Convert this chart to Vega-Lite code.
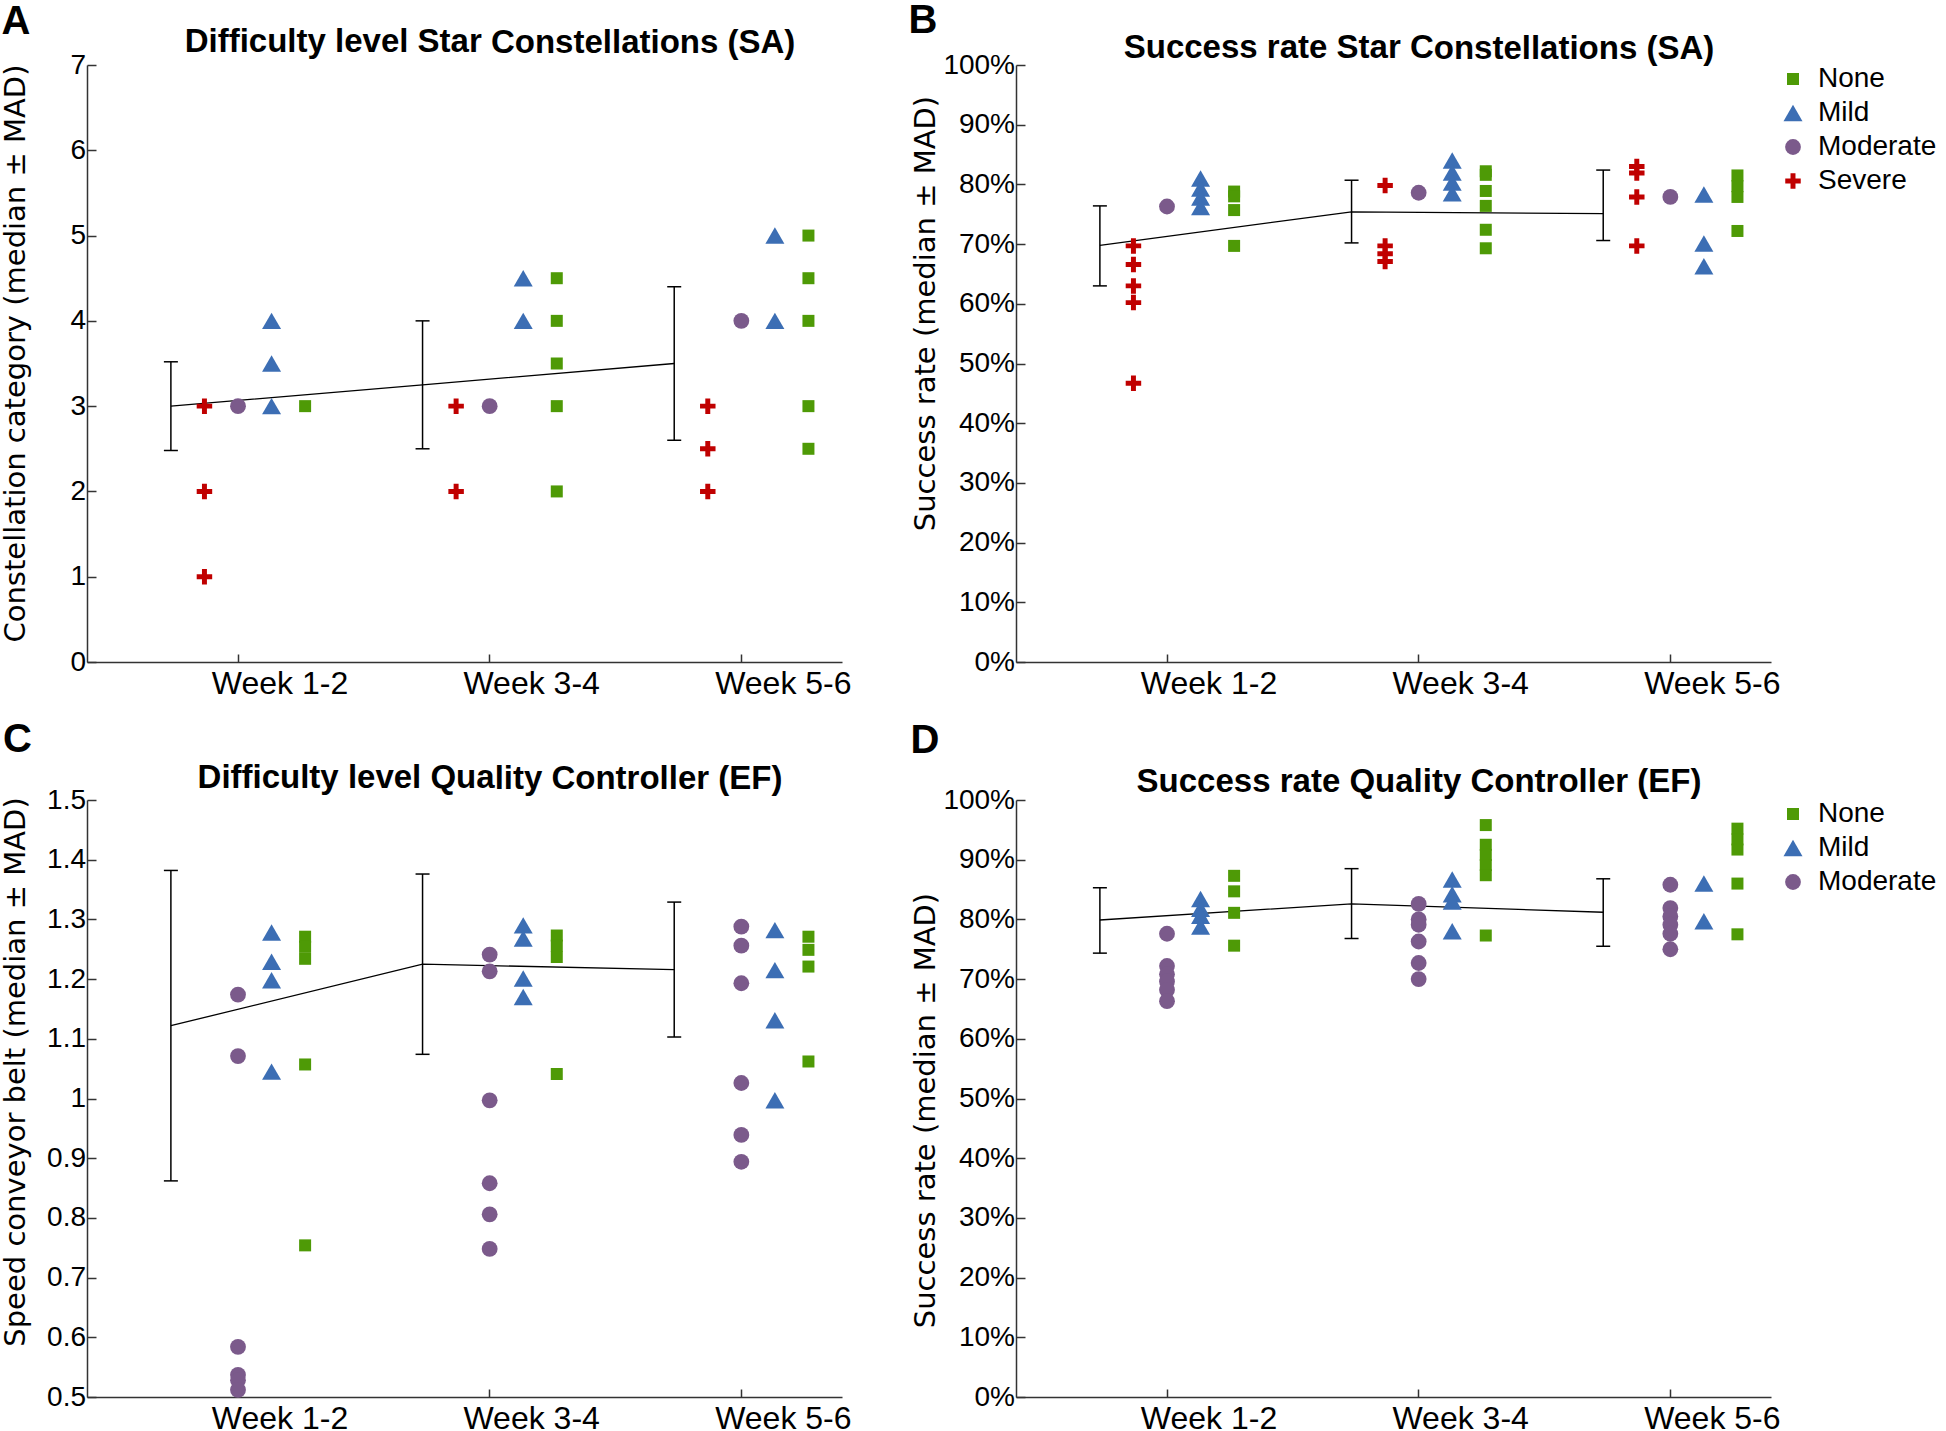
{
  "$schema": "https://vega.github.io/schema/vega-lite/v6.json",
  "padding": 0,
  "autosize": {"type": "pad"},
  "background": "white",
  "bounds": "flush",
  "columns": 2,
  "spacing": {"row": 138, "column": 174},
  "resolve": {"scale": {"x": "independent", "y": "independent", "xOffset": "independent", "color": "independent", "shape": "independent", "size": "independent"}, "axis": {"x": "independent", "y": "independent"}, "legend": {"color": "independent", "shape": "independent", "size": "independent"}},
  "datasets": {
    "A_pts": [
      {"week": "Week 1-2", "group": "Severe", "value": 3}, {"week": "Week 1-2", "group": "Severe", "value": 2}, {"week": "Week 1-2", "group": "Severe", "value": 1},
      {"week": "Week 1-2", "group": "Moderate", "value": 3},
      {"week": "Week 1-2", "group": "Mild", "value": 4}, {"week": "Week 1-2", "group": "Mild", "value": 3.5}, {"week": "Week 1-2", "group": "Mild", "value": 3},
      {"week": "Week 1-2", "group": "None", "value": 3},
      {"week": "Week 3-4", "group": "Severe", "value": 3}, {"week": "Week 3-4", "group": "Severe", "value": 2},
      {"week": "Week 3-4", "group": "Moderate", "value": 3},
      {"week": "Week 3-4", "group": "Mild", "value": 4.5}, {"week": "Week 3-4", "group": "Mild", "value": 4},
      {"week": "Week 3-4", "group": "None", "value": 4.5}, {"week": "Week 3-4", "group": "None", "value": 4}, {"week": "Week 3-4", "group": "None", "value": 3.5}, {"week": "Week 3-4", "group": "None", "value": 3}, {"week": "Week 3-4", "group": "None", "value": 2},
      {"week": "Week 5-6", "group": "Severe", "value": 3}, {"week": "Week 5-6", "group": "Severe", "value": 2.5}, {"week": "Week 5-6", "group": "Severe", "value": 2},
      {"week": "Week 5-6", "group": "Moderate", "value": 4},
      {"week": "Week 5-6", "group": "Mild", "value": 5}, {"week": "Week 5-6", "group": "Mild", "value": 4},
      {"week": "Week 5-6", "group": "None", "value": 5}, {"week": "Week 5-6", "group": "None", "value": 4.5}, {"week": "Week 5-6", "group": "None", "value": 4}, {"week": "Week 5-6", "group": "None", "value": 3}, {"week": "Week 5-6", "group": "None", "value": 2.5}
    ],
    "A_sum": [
      {"week": "Week 1-2", "median": 3.0, "lo": 2.48, "hi": 3.52},
      {"week": "Week 3-4", "median": 3.25, "lo": 2.5, "hi": 4.0},
      {"week": "Week 5-6", "median": 3.5, "lo": 2.6, "hi": 4.4}
    ],
    "B_pts": [
      {"week": "Week 1-2", "group": "Severe", "value": 69.7}, {"week": "Week 1-2", "group": "Severe", "value": 66.6}, {"week": "Week 1-2", "group": "Severe", "value": 63.0}, {"week": "Week 1-2", "group": "Severe", "value": 60.2}, {"week": "Week 1-2", "group": "Severe", "value": 46.7},
      {"week": "Week 1-2", "group": "Moderate", "value": 76.3},
      {"week": "Week 1-2", "group": "Mild", "value": 81.0}, {"week": "Week 1-2", "group": "Mild", "value": 79.3}, {"week": "Week 1-2", "group": "Mild", "value": 77.8}, {"week": "Week 1-2", "group": "Mild", "value": 76.2},
      {"week": "Week 1-2", "group": "None", "value": 78.8}, {"week": "Week 1-2", "group": "None", "value": 78.0}, {"week": "Week 1-2", "group": "None", "value": 75.7}, {"week": "Week 1-2", "group": "None", "value": 69.7},
      {"week": "Week 3-4", "group": "Severe", "value": 79.8}, {"week": "Week 3-4", "group": "Severe", "value": 69.7}, {"week": "Week 3-4", "group": "Severe", "value": 68.4}, {"week": "Week 3-4", "group": "Severe", "value": 67.1},
      {"week": "Week 3-4", "group": "Moderate", "value": 78.6},
      {"week": "Week 3-4", "group": "Mild", "value": 84.0}, {"week": "Week 3-4", "group": "Mild", "value": 82.0}, {"week": "Week 3-4", "group": "Mild", "value": 80.3}, {"week": "Week 3-4", "group": "Mild", "value": 78.5},
      {"week": "Week 3-4", "group": "None", "value": 82.2}, {"week": "Week 3-4", "group": "None", "value": 81.6}, {"week": "Week 3-4", "group": "None", "value": 78.9}, {"week": "Week 3-4", "group": "None", "value": 76.4}, {"week": "Week 3-4", "group": "None", "value": 72.4}, {"week": "Week 3-4", "group": "None", "value": 69.3},
      {"week": "Week 5-6", "group": "Severe", "value": 83.0}, {"week": "Week 5-6", "group": "Severe", "value": 81.9}, {"week": "Week 5-6", "group": "Severe", "value": 77.9}, {"week": "Week 5-6", "group": "Severe", "value": 69.7},
      {"week": "Week 5-6", "group": "Moderate", "value": 77.9},
      {"week": "Week 5-6", "group": "Mild", "value": 78.3}, {"week": "Week 5-6", "group": "Mild", "value": 70.1}, {"week": "Week 5-6", "group": "Mild", "value": 66.3},
      {"week": "Week 5-6", "group": "None", "value": 81.5}, {"week": "Week 5-6", "group": "None", "value": 79.7}, {"week": "Week 5-6", "group": "None", "value": 77.9}, {"week": "Week 5-6", "group": "None", "value": 72.2}
    ],
    "B_sum": [
      {"week": "Week 1-2", "median": 69.8, "lo": 63.0, "hi": 76.4},
      {"week": "Week 3-4", "median": 75.4, "lo": 70.2, "hi": 80.7},
      {"week": "Week 5-6", "median": 75.1, "lo": 70.6, "hi": 82.4}
    ],
    "C_pts": [
      {"week": "Week 1-2", "group": "Moderate", "value": 1.174}, {"week": "Week 1-2", "group": "Moderate", "value": 1.071}, {"week": "Week 1-2", "group": "Moderate", "value": 0.584}, {"week": "Week 1-2", "group": "Moderate", "value": 0.537}, {"week": "Week 1-2", "group": "Moderate", "value": 0.528}, {"week": "Week 1-2", "group": "Moderate", "value": 0.512},
      {"week": "Week 1-2", "group": "Mild", "value": 1.278}, {"week": "Week 1-2", "group": "Mild", "value": 1.229}, {"week": "Week 1-2", "group": "Mild", "value": 1.198}, {"week": "Week 1-2", "group": "Mild", "value": 1.045},
      {"week": "Week 1-2", "group": "None", "value": 1.271}, {"week": "Week 1-2", "group": "None", "value": 1.254}, {"week": "Week 1-2", "group": "None", "value": 1.234}, {"week": "Week 1-2", "group": "None", "value": 1.057}, {"week": "Week 1-2", "group": "None", "value": 0.754},
      {"week": "Week 3-4", "group": "Moderate", "value": 1.241}, {"week": "Week 3-4", "group": "Moderate", "value": 1.213}, {"week": "Week 3-4", "group": "Moderate", "value": 0.997}, {"week": "Week 3-4", "group": "Moderate", "value": 0.858}, {"week": "Week 3-4", "group": "Moderate", "value": 0.806}, {"week": "Week 3-4", "group": "Moderate", "value": 0.748},
      {"week": "Week 3-4", "group": "Mild", "value": 1.290}, {"week": "Week 3-4", "group": "Mild", "value": 1.268}, {"week": "Week 3-4", "group": "Mild", "value": 1.201}, {"week": "Week 3-4", "group": "Mild", "value": 1.170},
      {"week": "Week 3-4", "group": "None", "value": 1.273}, {"week": "Week 3-4", "group": "None", "value": 1.256}, {"week": "Week 3-4", "group": "None", "value": 1.237}, {"week": "Week 3-4", "group": "None", "value": 1.041},
      {"week": "Week 5-6", "group": "Moderate", "value": 1.288}, {"week": "Week 5-6", "group": "Moderate", "value": 1.256}, {"week": "Week 5-6", "group": "Moderate", "value": 1.193}, {"week": "Week 5-6", "group": "Moderate", "value": 1.026}, {"week": "Week 5-6", "group": "Moderate", "value": 0.939}, {"week": "Week 5-6", "group": "Moderate", "value": 0.894},
      {"week": "Week 5-6", "group": "Mild", "value": 1.282}, {"week": "Week 5-6", "group": "Mild", "value": 1.215}, {"week": "Week 5-6", "group": "Mild", "value": 1.131}, {"week": "Week 5-6", "group": "Mild", "value": 0.997},
      {"week": "Week 5-6", "group": "None", "value": 1.271}, {"week": "Week 5-6", "group": "None", "value": 1.249}, {"week": "Week 5-6", "group": "None", "value": 1.221}, {"week": "Week 5-6", "group": "None", "value": 1.062}
    ],
    "C_sum": [
      {"week": "Week 1-2", "median": 1.122, "lo": 0.862, "hi": 1.382},
      {"week": "Week 3-4", "median": 1.225, "lo": 1.074, "hi": 1.376},
      {"week": "Week 5-6", "median": 1.216, "lo": 1.103, "hi": 1.329}
    ],
    "D_pts": [
      {"week": "Week 1-2", "group": "Moderate", "value": 77.6}, {"week": "Week 1-2", "group": "Moderate", "value": 72.2}, {"week": "Week 1-2", "group": "Moderate", "value": 70.8}, {"week": "Week 1-2", "group": "Moderate", "value": 69.6}, {"week": "Week 1-2", "group": "Moderate", "value": 68.2}, {"week": "Week 1-2", "group": "Moderate", "value": 66.3},
      {"week": "Week 1-2", "group": "Mild", "value": 83.4}, {"week": "Week 1-2", "group": "Mild", "value": 81.8}, {"week": "Week 1-2", "group": "Mild", "value": 80.6}, {"week": "Week 1-2", "group": "Mild", "value": 78.8},
      {"week": "Week 1-2", "group": "None", "value": 87.3}, {"week": "Week 1-2", "group": "None", "value": 84.7}, {"week": "Week 1-2", "group": "None", "value": 81.1}, {"week": "Week 1-2", "group": "None", "value": 75.6},
      {"week": "Week 3-4", "group": "Moderate", "value": 82.6}, {"week": "Week 3-4", "group": "Moderate", "value": 80.0}, {"week": "Week 3-4", "group": "Moderate", "value": 79.1}, {"week": "Week 3-4", "group": "Moderate", "value": 76.3}, {"week": "Week 3-4", "group": "Moderate", "value": 72.7}, {"week": "Week 3-4", "group": "Moderate", "value": 70.0},
      {"week": "Week 3-4", "group": "Mild", "value": 86.7}, {"week": "Week 3-4", "group": "Mild", "value": 84.2}, {"week": "Week 3-4", "group": "Mild", "value": 83.0}, {"week": "Week 3-4", "group": "Mild", "value": 78.0},
      {"week": "Week 3-4", "group": "None", "value": 95.8}, {"week": "Week 3-4", "group": "None", "value": 92.5}, {"week": "Week 3-4", "group": "None", "value": 90.8}, {"week": "Week 3-4", "group": "None", "value": 89.1}, {"week": "Week 3-4", "group": "None", "value": 87.4}, {"week": "Week 3-4", "group": "None", "value": 77.3},
      {"week": "Week 5-6", "group": "Moderate", "value": 85.8}, {"week": "Week 5-6", "group": "Moderate", "value": 81.9}, {"week": "Week 5-6", "group": "Moderate", "value": 80.5}, {"week": "Week 5-6", "group": "Moderate", "value": 79.1}, {"week": "Week 5-6", "group": "Moderate", "value": 77.6}, {"week": "Week 5-6", "group": "Moderate", "value": 75.0},
      {"week": "Week 5-6", "group": "Mild", "value": 86.0}, {"week": "Week 5-6", "group": "Mild", "value": 79.7},
      {"week": "Week 5-6", "group": "None", "value": 95.2}, {"week": "Week 5-6", "group": "None", "value": 93.4}, {"week": "Week 5-6", "group": "None", "value": 91.7}, {"week": "Week 5-6", "group": "None", "value": 86.0}, {"week": "Week 5-6", "group": "None", "value": 77.5}
    ],
    "D_sum": [
      {"week": "Week 1-2", "median": 79.9, "lo": 74.35, "hi": 85.3},
      {"week": "Week 3-4", "median": 82.6, "lo": 76.8, "hi": 88.5},
      {"week": "Week 5-6", "median": 81.2, "lo": 75.5, "hi": 86.8}
    ]
  },
  "concat": [
    {
      "width": 755, "height": 597,
      "resolve": {"axis": {"x": "independent", "y": "independent"}},
      "layer": [
        {"data": {"name": "A_sum"}, "mark": {"type": "line", "color": "#000000", "strokeWidth": 1.3},
         "encoding": {"x": {"field": "week", "type": "nominal", "scale": {"type": "band", "domain": ["Week 1-2", "Week 3-4", "Week 5-6"], "paddingInner": 0.2, "paddingOuter": 0.1, "align": 1},
             "axis": {"orient": "top", "title": "Difficulty level Star Constellations (SA)", "domain": false, "ticks": false, "labels": false, "titleX": 402.5, "titleY": -13, "titleAlign": "center", "titleBaseline": "alphabetic", "titleAngle": 0.01, "titleFont": "Liberation Sans", "titleFontSize": 33, "titleFontWeight": "bold"}},
           "xOffset": {"datum": "EB", "type": "nominal", "scale": {"type": "point", "domain": ["EB", "Severe", "Moderate", "Mild", "None"], "padding": 6.05}},
           "y": {"field": "median", "type": "quantitative", "scale": {"domain": [0, 7], "nice": false, "zero": false},
             "axis": {"orient": "right", "title": "A", "domain": false, "ticks": false, "labels": false, "titleX": -841, "titleY": -32, "titleAlign": "left", "titleBaseline": "alphabetic", "titleAngle": 0.01, "titleFont": "Liberation Sans", "titleFontSize": 40, "titleFontWeight": "bold"}}}},
        {"data": {"name": "A_sum"}, "mark": {"type": "rule", "color": "#000000", "strokeWidth": 1.5},
         "encoding": {"x": {"field": "week", "type": "nominal", "axis": null, "scale": {"type": "band", "domain": ["Week 1-2", "Week 3-4", "Week 5-6"], "paddingInner": 0.2, "paddingOuter": 0.1, "align": 1}},
           "xOffset": {"datum": "EB", "type": "nominal", "scale": {"type": "point", "domain": ["EB", "Severe", "Moderate", "Mild", "None"], "padding": 6.05}},
           "y": {"field": "lo", "type": "quantitative", "axis": null, "scale": {"domain": [0, 7], "nice": false, "zero": false}},
           "y2": {"field": "hi"}}},
        {"data": {"name": "A_sum"}, "mark": {"type": "point", "shape": "stroke", "size": 196, "filled": false, "color": "#000000", "strokeWidth": 1.5, "opacity": 1},
         "encoding": {"x": {"field": "week", "type": "nominal", "axis": null, "scale": {"type": "band", "domain": ["Week 1-2", "Week 3-4", "Week 5-6"], "paddingInner": 0.2, "paddingOuter": 0.1, "align": 1}},
           "xOffset": {"datum": "EB", "type": "nominal", "scale": {"type": "point", "domain": ["EB", "Severe", "Moderate", "Mild", "None"], "padding": 6.05}},
           "y": {"field": "lo", "type": "quantitative", "axis": null, "scale": {"domain": [0, 7], "nice": false, "zero": false}}}},
        {"data": {"name": "A_sum"}, "mark": {"type": "point", "shape": "stroke", "size": 196, "filled": false, "color": "#000000", "strokeWidth": 1.5, "opacity": 1},
         "encoding": {"x": {"field": "week", "type": "nominal", "axis": null, "scale": {"type": "band", "domain": ["Week 1-2", "Week 3-4", "Week 5-6"], "paddingInner": 0.2, "paddingOuter": 0.1, "align": 1}},
           "xOffset": {"datum": "EB", "type": "nominal", "scale": {"type": "point", "domain": ["EB", "Severe", "Moderate", "Mild", "None"], "padding": 6.05}},
           "y": {"field": "hi", "type": "quantitative", "axis": null, "scale": {"domain": [0, 7], "nice": false, "zero": false}}}},
        {"data": {"name": "A_pts"}, "mark": {"type": "point", "filled": true, "opacity": 1, "strokeWidth": 0},
         "encoding": {"x": {"field": "week", "type": "nominal", "title": null, "scale": {"type": "band", "domain": ["Week 1-2", "Week 3-4", "Week 5-6"], "paddingInner": 0.2, "paddingOuter": 0.1, "align": 1}},
           "xOffset": {"field": "group", "type": "nominal", "scale": {"type": "point", "domain": ["EB", "Severe", "Moderate", "Mild", "None"], "padding": 6.05}},
           "y": {"field": "value", "type": "quantitative", "title": "Constellation category (median ± MAD)", "scale": {"domain": [0, 7], "nice": false, "zero": false},
             "axis": {"values": [0, 1, 2, 3, 4, 5, 6, 7], "format": "d", "titleX": -62.7, "titleY": 288}},
           "color": {"field": "group", "type": "nominal", "legend": null, "scale": {"domain": ["None", "Mild", "Moderate", "Severe"], "range": ["#4e9a06", "#3c6eb4", "#7b5a8b", "#c00000"]}},
           "shape": {"field": "group", "type": "nominal", "legend": null, "scale": {"domain": ["None", "Mild", "Moderate", "Severe"], "range": ["square", "triangle-up", "circle", "M-0.32,-1H0.32V-0.32H1V0.32H0.32V1H-0.32V0.32H-1V-0.32H-0.32Z"]}},
           "size": {"field": "group", "type": "nominal", "legend": null, "scale": {"type": "ordinal", "domain": ["None", "Mild", "Moderate", "Severe"], "range": [144, 361, 250, 240]}}}}
      ]
    },
    {
      "width": 755, "height": 597,
      "resolve": {"axis": {"x": "independent", "y": "independent"}},
      "layer": [
        {"data": {"name": "B_sum"}, "mark": {"type": "line", "color": "#000000", "strokeWidth": 1.3},
         "encoding": {"x": {"field": "week", "type": "nominal", "scale": {"type": "band", "domain": ["Week 1-2", "Week 3-4", "Week 5-6"], "paddingInner": 0.2, "paddingOuter": 0.1, "align": 1},
             "axis": {"orient": "top", "title": "Success rate Star Constellations (SA)", "domain": false, "ticks": false, "labels": false, "titleX": 402.5, "titleY": -7, "titleAlign": "center", "titleBaseline": "alphabetic", "titleAngle": 0.01, "titleFont": "Liberation Sans", "titleFontSize": 33, "titleFontWeight": "bold"}},
           "xOffset": {"datum": "EB", "type": "nominal", "scale": {"type": "point", "domain": ["EB", "Severe", "Moderate", "Mild", "None"], "padding": 6.05}},
           "y": {"field": "median", "type": "quantitative", "scale": {"domain": [0, 100], "nice": false, "zero": false},
             "axis": {"orient": "right", "title": "B", "domain": false, "ticks": false, "labels": false, "titleX": -863, "titleY": -33, "titleAlign": "left", "titleBaseline": "alphabetic", "titleAngle": 0.01, "titleFont": "Liberation Sans", "titleFontSize": 40, "titleFontWeight": "bold"}}}},
        {"data": {"name": "B_sum"}, "mark": {"type": "rule", "color": "#000000", "strokeWidth": 1.5},
         "encoding": {"x": {"field": "week", "type": "nominal", "axis": null, "scale": {"type": "band", "domain": ["Week 1-2", "Week 3-4", "Week 5-6"], "paddingInner": 0.2, "paddingOuter": 0.1, "align": 1}},
           "xOffset": {"datum": "EB", "type": "nominal", "scale": {"type": "point", "domain": ["EB", "Severe", "Moderate", "Mild", "None"], "padding": 6.05}},
           "y": {"field": "lo", "type": "quantitative", "axis": null, "scale": {"domain": [0, 100], "nice": false, "zero": false}},
           "y2": {"field": "hi"}}},
        {"data": {"name": "B_sum"}, "mark": {"type": "point", "shape": "stroke", "size": 196, "filled": false, "color": "#000000", "strokeWidth": 1.5, "opacity": 1},
         "encoding": {"x": {"field": "week", "type": "nominal", "axis": null, "scale": {"type": "band", "domain": ["Week 1-2", "Week 3-4", "Week 5-6"], "paddingInner": 0.2, "paddingOuter": 0.1, "align": 1}},
           "xOffset": {"datum": "EB", "type": "nominal", "scale": {"type": "point", "domain": ["EB", "Severe", "Moderate", "Mild", "None"], "padding": 6.05}},
           "y": {"field": "lo", "type": "quantitative", "axis": null, "scale": {"domain": [0, 100], "nice": false, "zero": false}}}},
        {"data": {"name": "B_sum"}, "mark": {"type": "point", "shape": "stroke", "size": 196, "filled": false, "color": "#000000", "strokeWidth": 1.5, "opacity": 1},
         "encoding": {"x": {"field": "week", "type": "nominal", "axis": null, "scale": {"type": "band", "domain": ["Week 1-2", "Week 3-4", "Week 5-6"], "paddingInner": 0.2, "paddingOuter": 0.1, "align": 1}},
           "xOffset": {"datum": "EB", "type": "nominal", "scale": {"type": "point", "domain": ["EB", "Severe", "Moderate", "Mild", "None"], "padding": 6.05}},
           "y": {"field": "hi", "type": "quantitative", "axis": null, "scale": {"domain": [0, 100], "nice": false, "zero": false}}}},
        {"data": {"name": "B_pts"}, "mark": {"type": "point", "filled": true, "opacity": 1, "strokeWidth": 0},
         "encoding": {"x": {"field": "week", "type": "nominal", "title": null, "scale": {"type": "band", "domain": ["Week 1-2", "Week 3-4", "Week 5-6"], "paddingInner": 0.2, "paddingOuter": 0.1, "align": 1}},
           "xOffset": {"field": "group", "type": "nominal", "scale": {"type": "point", "domain": ["EB", "Severe", "Moderate", "Mild", "None"], "padding": 6.05}},
           "y": {"field": "value", "type": "quantitative", "title": "Success rate (median ± MAD)", "scale": {"domain": [0, 100], "nice": false, "zero": false},
             "axis": {"values": [0, 10, 20, 30, 40, 50, 60, 70, 80, 90, 100], "labelExpr": "datum.value + '%'", "titleX": -82, "titleY": 248}},
           "color": {"field": "group", "type": "nominal", "legend": {"title": null}, "scale": {"domain": ["None", "Mild", "Moderate", "Severe"], "range": ["#4e9a06", "#3c6eb4", "#7b5a8b", "#c00000"]}},
           "shape": {"field": "group", "type": "nominal", "legend": {"title": null}, "scale": {"domain": ["None", "Mild", "Moderate", "Severe"], "range": ["square", "triangle-up", "circle", "M-0.32,-1H0.32V-0.32H1V0.32H0.32V1H-0.32V0.32H-1V-0.32H-0.32Z"]}},
           "size": {"field": "group", "type": "nominal", "legend": {"title": null}, "scale": {"type": "ordinal", "domain": ["None", "Mild", "Moderate", "Severe"], "range": [144, 361, 250, 240]}}}}
      ]
    },
    {
      "width": 755, "height": 597,
      "resolve": {"axis": {"x": "independent", "y": "independent"}},
      "layer": [
        {"data": {"name": "C_sum"}, "mark": {"type": "line", "color": "#000000", "strokeWidth": 1.3},
         "encoding": {"x": {"field": "week", "type": "nominal", "scale": {"type": "band", "domain": ["Week 1-2", "Week 3-4", "Week 5-6"], "paddingInner": 0.2, "paddingOuter": 0.1, "align": 1},
             "axis": {"orient": "top", "title": "Difficulty level Quality Controller  (EF)", "domain": false, "ticks": false, "labels": false, "titleX": 402.5, "titleY": -12, "titleAlign": "center", "titleBaseline": "alphabetic", "titleAngle": 0.01, "titleFont": "Liberation Sans", "titleFontSize": 33, "titleFontWeight": "bold"}},
           "xOffset": {"datum": "EB", "type": "nominal", "scale": {"type": "point", "domain": ["EB", "Severe", "Moderate", "Mild", "None"], "padding": 6.05}},
           "y": {"field": "median", "type": "quantitative", "scale": {"domain": [0.5, 1.5], "nice": false, "zero": false},
             "axis": {"orient": "right", "title": "C", "domain": false, "ticks": false, "labels": false, "titleX": -839.6, "titleY": -49, "titleAlign": "left", "titleBaseline": "alphabetic", "titleAngle": 0.01, "titleFont": "Liberation Sans", "titleFontSize": 40, "titleFontWeight": "bold"}}}},
        {"data": {"name": "C_sum"}, "mark": {"type": "rule", "color": "#000000", "strokeWidth": 1.5},
         "encoding": {"x": {"field": "week", "type": "nominal", "axis": null, "scale": {"type": "band", "domain": ["Week 1-2", "Week 3-4", "Week 5-6"], "paddingInner": 0.2, "paddingOuter": 0.1, "align": 1}},
           "xOffset": {"datum": "EB", "type": "nominal", "scale": {"type": "point", "domain": ["EB", "Severe", "Moderate", "Mild", "None"], "padding": 6.05}},
           "y": {"field": "lo", "type": "quantitative", "axis": null, "scale": {"domain": [0.5, 1.5], "nice": false, "zero": false}},
           "y2": {"field": "hi"}}},
        {"data": {"name": "C_sum"}, "mark": {"type": "point", "shape": "stroke", "size": 196, "filled": false, "color": "#000000", "strokeWidth": 1.5, "opacity": 1},
         "encoding": {"x": {"field": "week", "type": "nominal", "axis": null, "scale": {"type": "band", "domain": ["Week 1-2", "Week 3-4", "Week 5-6"], "paddingInner": 0.2, "paddingOuter": 0.1, "align": 1}},
           "xOffset": {"datum": "EB", "type": "nominal", "scale": {"type": "point", "domain": ["EB", "Severe", "Moderate", "Mild", "None"], "padding": 6.05}},
           "y": {"field": "lo", "type": "quantitative", "axis": null, "scale": {"domain": [0.5, 1.5], "nice": false, "zero": false}}}},
        {"data": {"name": "C_sum"}, "mark": {"type": "point", "shape": "stroke", "size": 196, "filled": false, "color": "#000000", "strokeWidth": 1.5, "opacity": 1},
         "encoding": {"x": {"field": "week", "type": "nominal", "axis": null, "scale": {"type": "band", "domain": ["Week 1-2", "Week 3-4", "Week 5-6"], "paddingInner": 0.2, "paddingOuter": 0.1, "align": 1}},
           "xOffset": {"datum": "EB", "type": "nominal", "scale": {"type": "point", "domain": ["EB", "Severe", "Moderate", "Mild", "None"], "padding": 6.05}},
           "y": {"field": "hi", "type": "quantitative", "axis": null, "scale": {"domain": [0.5, 1.5], "nice": false, "zero": false}}}},
        {"data": {"name": "C_pts"}, "mark": {"type": "point", "filled": true, "opacity": 1, "strokeWidth": 0},
         "encoding": {"x": {"field": "week", "type": "nominal", "title": null, "scale": {"type": "band", "domain": ["Week 1-2", "Week 3-4", "Week 5-6"], "paddingInner": 0.2, "paddingOuter": 0.1, "align": 1}},
           "xOffset": {"field": "group", "type": "nominal", "scale": {"type": "point", "domain": ["EB", "Severe", "Moderate", "Mild", "None"], "padding": 6.05}},
           "y": {"field": "value", "type": "quantitative", "title": "Speed conveyor belt (median ± MAD)", "scale": {"domain": [0.5, 1.5], "nice": false, "zero": false},
             "axis": {"values": [0.5, 0.6, 0.7, 0.8, 0.9, 1.0, 1.1, 1.2, 1.3, 1.4, 1.5], "format": "~g", "titleX": -63, "titleY": 271.5}},
           "color": {"field": "group", "type": "nominal", "legend": null, "scale": {"domain": ["None", "Mild", "Moderate"], "range": ["#4e9a06", "#3c6eb4", "#7b5a8b"]}},
           "shape": {"field": "group", "type": "nominal", "legend": null, "scale": {"domain": ["None", "Mild", "Moderate"], "range": ["square", "triangle-up", "circle"]}},
           "size": {"field": "group", "type": "nominal", "legend": null, "scale": {"type": "ordinal", "domain": ["None", "Mild", "Moderate"], "range": [144, 361, 250]}}}}
      ]
    },
    {
      "width": 755, "height": 597,
      "resolve": {"axis": {"x": "independent", "y": "independent"}},
      "layer": [
        {"data": {"name": "D_sum"}, "mark": {"type": "line", "color": "#000000", "strokeWidth": 1.3},
         "encoding": {"x": {"field": "week", "type": "nominal", "scale": {"type": "band", "domain": ["Week 1-2", "Week 3-4", "Week 5-6"], "paddingInner": 0.2, "paddingOuter": 0.1, "align": 1},
             "axis": {"orient": "top", "title": "Success rate Quality Controller (EF)", "domain": false, "ticks": false, "labels": false, "titleX": 402.5, "titleY": -8.4, "titleAlign": "center", "titleBaseline": "alphabetic", "titleAngle": 0.01, "titleFont": "Liberation Sans", "titleFontSize": 33, "titleFontWeight": "bold"}},
           "xOffset": {"datum": "EB", "type": "nominal", "scale": {"type": "point", "domain": ["EB", "Severe", "Moderate", "Mild", "None"], "padding": 6.05}},
           "y": {"field": "median", "type": "quantitative", "scale": {"domain": [0, 100], "nice": false, "zero": false},
             "axis": {"orient": "right", "title": "D", "domain": false, "ticks": false, "labels": false, "titleX": -861, "titleY": -48, "titleAlign": "left", "titleBaseline": "alphabetic", "titleAngle": 0.01, "titleFont": "Liberation Sans", "titleFontSize": 40, "titleFontWeight": "bold"}}}},
        {"data": {"name": "D_sum"}, "mark": {"type": "rule", "color": "#000000", "strokeWidth": 1.5},
         "encoding": {"x": {"field": "week", "type": "nominal", "axis": null, "scale": {"type": "band", "domain": ["Week 1-2", "Week 3-4", "Week 5-6"], "paddingInner": 0.2, "paddingOuter": 0.1, "align": 1}},
           "xOffset": {"datum": "EB", "type": "nominal", "scale": {"type": "point", "domain": ["EB", "Severe", "Moderate", "Mild", "None"], "padding": 6.05}},
           "y": {"field": "lo", "type": "quantitative", "axis": null, "scale": {"domain": [0, 100], "nice": false, "zero": false}},
           "y2": {"field": "hi"}}},
        {"data": {"name": "D_sum"}, "mark": {"type": "point", "shape": "stroke", "size": 196, "filled": false, "color": "#000000", "strokeWidth": 1.5, "opacity": 1},
         "encoding": {"x": {"field": "week", "type": "nominal", "axis": null, "scale": {"type": "band", "domain": ["Week 1-2", "Week 3-4", "Week 5-6"], "paddingInner": 0.2, "paddingOuter": 0.1, "align": 1}},
           "xOffset": {"datum": "EB", "type": "nominal", "scale": {"type": "point", "domain": ["EB", "Severe", "Moderate", "Mild", "None"], "padding": 6.05}},
           "y": {"field": "lo", "type": "quantitative", "axis": null, "scale": {"domain": [0, 100], "nice": false, "zero": false}}}},
        {"data": {"name": "D_sum"}, "mark": {"type": "point", "shape": "stroke", "size": 196, "filled": false, "color": "#000000", "strokeWidth": 1.5, "opacity": 1},
         "encoding": {"x": {"field": "week", "type": "nominal", "axis": null, "scale": {"type": "band", "domain": ["Week 1-2", "Week 3-4", "Week 5-6"], "paddingInner": 0.2, "paddingOuter": 0.1, "align": 1}},
           "xOffset": {"datum": "EB", "type": "nominal", "scale": {"type": "point", "domain": ["EB", "Severe", "Moderate", "Mild", "None"], "padding": 6.05}},
           "y": {"field": "hi", "type": "quantitative", "axis": null, "scale": {"domain": [0, 100], "nice": false, "zero": false}}}},
        {"data": {"name": "D_pts"}, "mark": {"type": "point", "filled": true, "opacity": 1, "strokeWidth": 0},
         "encoding": {"x": {"field": "week", "type": "nominal", "title": null, "scale": {"type": "band", "domain": ["Week 1-2", "Week 3-4", "Week 5-6"], "paddingInner": 0.2, "paddingOuter": 0.1, "align": 1}},
           "xOffset": {"field": "group", "type": "nominal", "scale": {"type": "point", "domain": ["EB", "Severe", "Moderate", "Mild", "None"], "padding": 6.05}},
           "y": {"field": "value", "type": "quantitative", "title": "Success rate (median ± MAD)", "scale": {"domain": [0, 100], "nice": false, "zero": false},
             "axis": {"values": [0, 10, 20, 30, 40, 50, 60, 70, 80, 90, 100], "labelExpr": "datum.value + '%'", "titleX": -82, "titleY": 310}},
           "color": {"field": "group", "type": "nominal", "legend": {"title": null}, "scale": {"domain": ["None", "Mild", "Moderate"], "range": ["#4e9a06", "#3c6eb4", "#7b5a8b"]}},
           "shape": {"field": "group", "type": "nominal", "legend": {"title": null}, "scale": {"domain": ["None", "Mild", "Moderate"], "range": ["square", "triangle-up", "circle"]}},
           "size": {"field": "group", "type": "nominal", "legend": {"title": null}, "scale": {"type": "ordinal", "domain": ["None", "Mild", "Moderate"], "range": [144, 361, 250]}}}}
      ]
    }
  ],
  "config": {
    "view": {"stroke": null},
    "axis": {"grid": false, "domainColor": "#333333", "domainWidth": 1.5, "tickColor": "#333333", "tickWidth": 1.5, "labelFont": "Liberation Sans", "labelColor": "#000000", "titleFont": "DejaVu Sans", "titleFontWeight": "normal", "titleFontSize": 29, "titleColor": "#000000"},
    "axisX": {"labelFontSize": 32, "labelOffset": 42, "tickSize": -8, "labelPadding": 14.6, "labelAngle": 0},
    "axisY": {"labelFontSize": 28, "tickSize": -9, "labelPadding": 10.5, "labelFlush": false, "titleBaseline": "alphabetic"},
    "legend": {"orient": "right", "offset": 8, "padding": 0, "labelFont": "Liberation Sans", "labelFontSize": 28, "labelColor": "#000000", "rowPadding": 6, "labelOffset": 11, "symbolStrokeWidth": 0}
  }
}
